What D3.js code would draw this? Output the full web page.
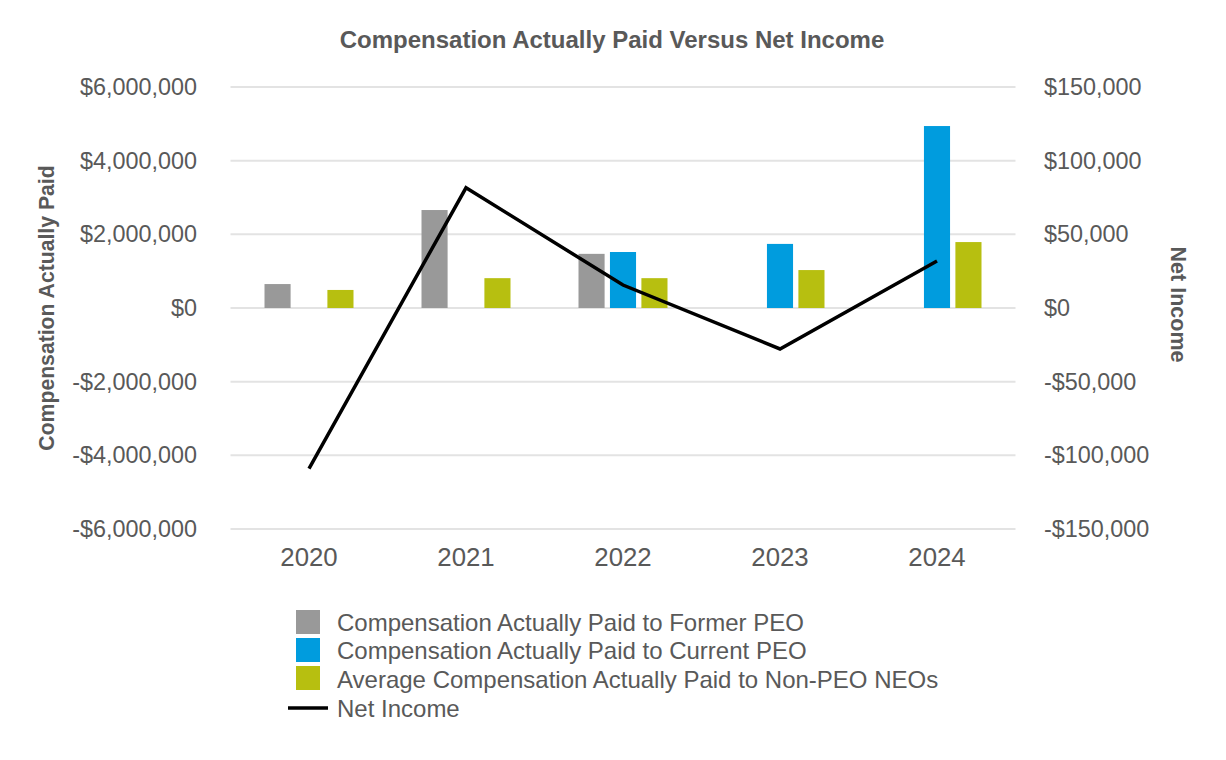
<!DOCTYPE html>
<html>
<head>
<meta charset="utf-8">
<script src="https://cdn.jsdelivr.net/npm/d3@7"></script>
<style>
  body { margin: 0; background: #fff; }
  svg { display: block; font-family: "Liberation Sans", Arial, sans-serif; }
</style>
</head>
<body>
<div id="chart"></div>
<script>
const years = ["2020", "2021", "2022", "2023", "2024"];
const formerPEO = [650000, 2660000, 1470000, null, null];
const currentPEO = [null, null, 1520000, 1740000, 4940000];
const nonPEO = [490000, 810000, 810000, 1030000, 1790000];
const netIncome = [-109000, 81600, 15600, -27800, 31900];
const leftTicks = [-6000000, -4000000, -2000000, 0, 2000000, 4000000, 6000000];
const rightTicks = [-150000, -100000, -50000, 0, 50000, 100000, 150000];
const seriesNames = [
  "Compensation Actually Paid to Former PEO",
  "Compensation Actually Paid to Current PEO",
  "Average Compensation Actually Paid to Non-PEO NEOs"
];
const colors = ["#999999", "#009cde", "#b7bf10"];

const W = 1226, H = 760;
const plotL = 230.5, plotR = 1015.5, plotT = 87, plotB = 529;
const txt = "#595959";

const svg = d3.select("#chart").append("svg")
  .attr("width", W).attr("height", H);

const x = d3.scaleBand().domain(years).range([plotL, plotR]);
const xs = d3.scaleBand().domain([0, 1, 2]).range([-44.5, 44.5]).paddingInner(0.17);
const yL = d3.scaleLinear().domain([-6000000, 6000000]).range([plotB, plotT]);
const yR = d3.scaleLinear().domain([-150000, 150000]).range([plotB, plotT]);

const money = v => (v < 0 ? "-$" : "$") + d3.format(",")(Math.abs(v));

// gridlines
svg.append("g").selectAll("line").data(leftTicks).join("line")
  .attr("x1", plotL).attr("x2", plotR)
  .attr("y1", d => yL(d)).attr("y2", d => yL(d))
  .attr("stroke", "#e3e3e3").attr("stroke-width", 2);

// left axis
const gl = svg.append("g").attr("transform", "translate(197,0)")
  .call(d3.axisLeft(yL).tickValues(leftTicks).tickFormat(money).tickSize(0).tickPadding(0));
gl.select(".domain").remove();
gl.selectAll("text").attr("fill", txt).style("font-size", "23.4px");

// right axis
const gr = svg.append("g").attr("transform", "translate(1044,0)")
  .call(d3.axisRight(yR).tickValues(rightTicks).tickFormat(money).tickSize(0).tickPadding(0));
gr.select(".domain").remove();
gr.selectAll("text").attr("fill", txt).style("font-size", "23.4px");

// x axis
const gx = svg.append("g")
  .call(d3.axisBottom(x).tickSize(0).tickPadding(0));
gx.select(".domain").remove();
gx.selectAll("text").attr("fill", txt).style("font-size", "25.8px")
  .attr("y", 566).attr("dy", null);

// bars
const seriesData = [formerPEO, currentPEO, nonPEO];
seriesData.forEach((vals, si) => {
  svg.append("g").selectAll("rect")
    .data(vals.map((v, i) => ({ year: years[i], v })).filter(d => d.v !== null))
    .join("rect")
    .attr("x", d => x(d.year) + x.bandwidth() / 2 + xs(si))
    .attr("width", xs.bandwidth())
    .attr("y", d => yL(Math.max(0, d.v)))
    .attr("height", d => Math.abs(yL(d.v) - yL(0)))
    .attr("fill", colors[si]);
});

// net income line
const line = d3.line()
  .x((d, i) => x(years[i]) + x.bandwidth() / 2)
  .y(d => yR(d));
svg.append("path").datum(netIncome)
  .attr("d", line)
  .attr("fill", "none").attr("stroke", "#000").attr("stroke-width", 3.5);

// title
svg.append("text").attr("x", 612).attr("y", 48).attr("text-anchor", "middle")
  .attr("fill", txt).style("font-size", "24px").style("font-weight", "bold")
  .text("Compensation Actually Paid Versus Net Income");

// axis titles
svg.append("text").attr("transform", "translate(53.5,308) rotate(-90)")
  .attr("text-anchor", "middle").attr("fill", txt)
  .style("font-size", "21.2px").style("font-weight", "bold")
  .text("Compensation Actually Paid");
svg.append("text").attr("transform", "translate(1171,304.5) rotate(90)")
  .attr("text-anchor", "middle").attr("fill", txt)
  .style("font-size", "21.5px").style("font-weight", "bold")
  .text("Net Income");

// legend
const lg = svg.append("g");
seriesNames.forEach((name, i) => {
  const yy = 610 + i * 28;
  lg.append("rect").attr("x", 296).attr("y", yy).attr("width", 24).attr("height", 24)
    .attr("fill", colors[i]);
  lg.append("text").attr("x", 337).attr("y", 630.6 + i * 28.6).attr("fill", txt)
    .style("font-size", "24px").text(name);
});
lg.append("line").attr("x1", 288).attr("x2", 328).attr("y1", 708).attr("y2", 708)
  .attr("stroke", "#000").attr("stroke-width", 3.5);
lg.append("text").attr("x", 337).attr("y", 716.5).attr("fill", txt)
  .style("font-size", "24px").text("Net Income");
</script>
</body>
</html>
